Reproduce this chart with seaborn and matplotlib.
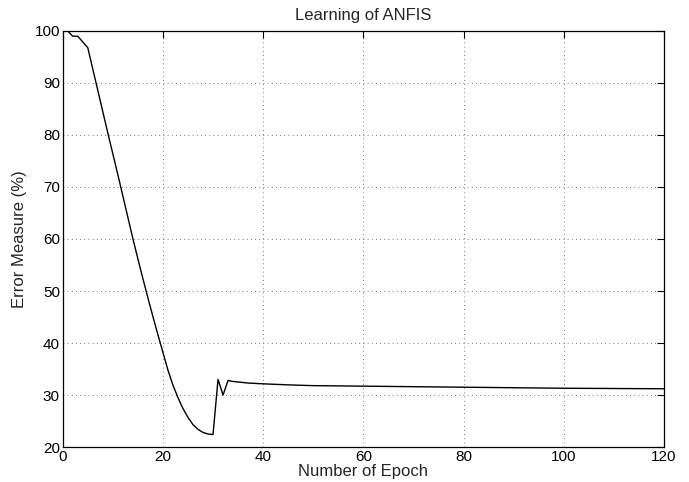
import numpy as np
import pandas as pd
import matplotlib
matplotlib.use("Agg")
import matplotlib.pyplot as plt
import seaborn as sns

# values
epochs = [1, 2, 3, 4, 5, 6, 7, 8, 9, 10, 11, 12, 13, 14, 15, 16, 17, 18, 19, 20,
          21, 22, 23, 24, 25, 26, 27, 28, 29, 30, 31, 32, 33, 34, 35, 36, 37, 38,
          39, 40, 45, 50, 60, 70, 80, 90, 100, 110, 120]
error = [100.0, 99.0, 99.0, 97.9, 96.8, 92.7, 88.6, 84.5, 80.4, 76.4, 72.4, 68.3,
         64.2, 60.1, 56.2, 52.4, 48.7, 45.1, 41.6, 38.2, 34.8, 31.9, 29.5, 27.4,
         25.7, 24.3, 23.4, 22.8, 22.5, 22.4, 33.0, 30.0, 32.8, 32.6, 32.5, 32.4,
         32.3, 32.25, 32.2, 32.15, 31.95, 31.8, 31.7, 31.6, 31.5, 31.4, 31.3, 31.25, 31.2]

df = pd.DataFrame({"epoch": epochs, "error": error})

sns.set_style("white")
plt.rcParams["font.family"] = ["Liberation Sans", "DejaVu Sans"]

fig = plt.figure(figsize=(6.89, 4.82), dpi=100)
ax = fig.add_axes([0.091, 0.0726, 0.8727, 0.8631])

sns.lineplot(x="epoch", y="error", data=df, color="black", linewidth=1.0, ax=ax)

ax.set_xlim(0, 120)
ax.set_ylim(20, 100)
ax.set_xticks(np.arange(0, 121, 20))
ax.set_yticks(np.arange(20, 101, 10))
ax.grid(True, linestyle=(0, (1, 4)), color="black", linewidth=0.6, alpha=0.7)
ax.tick_params(direction="in", top=True, right=True, length=5, width=0.8,
               labelsize=11, colors="black", pad=2)
for s in ax.spines.values():
    s.set_color("black")
    s.set_linewidth(0.9)

ax.set_title("Learning of ANFIS", fontsize=12, pad=8)
ax.set_xlabel("Number of Epoch", fontsize=12, labelpad=0)
ax.set_ylabel("Error Measure (%)", fontsize=12, labelpad=5)

fig.savefig("out.png", dpi=100)
